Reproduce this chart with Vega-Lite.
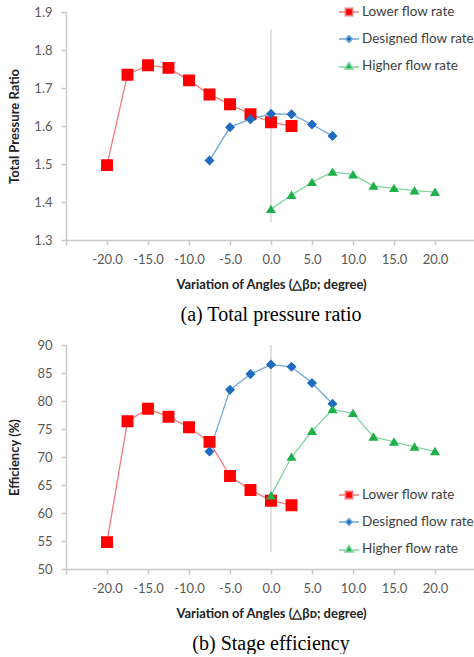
{
  "$schema": "https://vega.github.io/schema/vega-lite/v6.json",
  "padding": {"left": 8, "top": 1, "right": 0, "bottom": 0},
  "background": "white",
  "datasets": {
    "pr": [
      {"angle": -20, "value": 1.497, "series": "Lower flow rate"},
      {"angle": -17.5, "value": 1.735, "series": "Lower flow rate"},
      {"angle": -15, "value": 1.76, "series": "Lower flow rate"},
      {"angle": -12.5, "value": 1.753, "series": "Lower flow rate"},
      {"angle": -10, "value": 1.72, "series": "Lower flow rate"},
      {"angle": -7.5, "value": 1.683, "series": "Lower flow rate"},
      {"angle": -5, "value": 1.657, "series": "Lower flow rate"},
      {"angle": -2.5, "value": 1.631, "series": "Lower flow rate"},
      {"angle": 0, "value": 1.61, "series": "Lower flow rate"},
      {"angle": 2.5, "value": 1.6, "series": "Lower flow rate"},
      {"angle": -7.5, "value": 1.509, "series": "Designed flow rate"},
      {"angle": -5, "value": 1.597, "series": "Designed flow rate"},
      {"angle": -2.5, "value": 1.618, "series": "Designed flow rate"},
      {"angle": 0, "value": 1.632, "series": "Designed flow rate"},
      {"angle": 2.5, "value": 1.631, "series": "Designed flow rate"},
      {"angle": 5, "value": 1.604, "series": "Designed flow rate"},
      {"angle": 7.5, "value": 1.574, "series": "Designed flow rate"},
      {"angle": 0, "value": 1.381, "series": "Higher flow rate"},
      {"angle": 2.5, "value": 1.418, "series": "Higher flow rate"},
      {"angle": 5, "value": 1.452, "series": "Higher flow rate"},
      {"angle": 7.5, "value": 1.479, "series": "Higher flow rate"},
      {"angle": 10, "value": 1.472, "series": "Higher flow rate"},
      {"angle": 12.5, "value": 1.442, "series": "Higher flow rate"},
      {"angle": 15, "value": 1.436, "series": "Higher flow rate"},
      {"angle": 17.5, "value": 1.43, "series": "Higher flow rate"},
      {"angle": 20, "value": 1.426, "series": "Higher flow rate"}
    ],
    "eff": [
      {"angle": -20, "value": 54.8, "series": "Lower flow rate"},
      {"angle": -17.5, "value": 76.4, "series": "Lower flow rate"},
      {"angle": -15, "value": 78.6, "series": "Lower flow rate"},
      {"angle": -12.5, "value": 77.2, "series": "Lower flow rate"},
      {"angle": -10, "value": 75.3, "series": "Lower flow rate"},
      {"angle": -7.5, "value": 72.7, "series": "Lower flow rate"},
      {"angle": -5, "value": 66.6, "series": "Lower flow rate"},
      {"angle": -2.5, "value": 64.1, "series": "Lower flow rate"},
      {"angle": 0, "value": 62.2, "series": "Lower flow rate"},
      {"angle": 2.5, "value": 61.4, "series": "Lower flow rate"},
      {"angle": -7.5, "value": 71.0, "series": "Designed flow rate"},
      {"angle": -5, "value": 82.0, "series": "Designed flow rate"},
      {"angle": -2.5, "value": 84.8, "series": "Designed flow rate"},
      {"angle": 0, "value": 86.5, "series": "Designed flow rate"},
      {"angle": 2.5, "value": 86.1, "series": "Designed flow rate"},
      {"angle": 5, "value": 83.2, "series": "Designed flow rate"},
      {"angle": 7.5, "value": 79.5, "series": "Designed flow rate"},
      {"angle": 0, "value": 63.1, "series": "Higher flow rate"},
      {"angle": 2.5, "value": 70.0, "series": "Higher flow rate"},
      {"angle": 5, "value": 74.6, "series": "Higher flow rate"},
      {"angle": 7.5, "value": 78.5, "series": "Higher flow rate"},
      {"angle": 10, "value": 77.8, "series": "Higher flow rate"},
      {"angle": 12.5, "value": 73.6, "series": "Higher flow rate"},
      {"angle": 15, "value": 72.7, "series": "Higher flow rate"},
      {"angle": 17.5, "value": 71.8, "series": "Higher flow rate"},
      {"angle": 20, "value": 71.0, "series": "Higher flow rate"}
    ],
    "vpr": [{"angle": 0, "value": 1.347, "value2": 1.853}],
    "veff": [{"angle": 0, "value": 53.0, "value2": 90}]
  },
  "config": {
    "view": {"stroke": null},
    "axis": {
      "grid": false,
      "domainColor": "#c8c8c8",
      "domainWidth": 1.5,
      "tickColor": "#c8c8c8",
      "tickWidth": 1.5,
      "tickSize": 5,
      "labelColor": "#595959",
      "labelFont": "Lato",
      "labelFontSize": 13,
      "titleFont": "Lato",
      "titleFontSize": 13,
      "titleFontWeight": "bold",
      "titleColor": "#222222",
      "labelOverlap": false
    },
    "legend": {
      "labelFont": "Lato",
      "labelFontSize": 13.5,
      "labelColor": "#404040",
      "symbolSize": 400,
      "rowPadding": 9,
      "labelOffset": 2,
      "padding": 0,
      "symbolStrokeWidth": 1.6
    },
    "title": {
      "orient": "bottom",
      "font": "Liberation Serif",
      "fontSize": 20,
      "fontWeight": "normal",
      "color": "#000000",
      "anchor": "middle",
      "offset": 14
    }
  },
  "resolve": {
    "scale": {"fill": "independent", "stroke": "independent", "shape": "independent"},
    "legend": {"fill": "independent", "stroke": "independent", "shape": "independent"}
  },
  "spacing": 14,
  "vconcat": [
    {
      "width": 410,
      "height": 228,
      "title": "(a) Total pressure ratio",
      "encoding": {
        "x": {"field": "angle", "type": "quantitative",
          "scale": {"domain": [-25, 25], "nice": false},
          "axis": {"values": [-25, -20, -15, -10, -5, 0, 5, 10, 15, 20, 25],
            "labelExpr": "abs(datum.value) == 25 ? '' : replace(format(datum.value, '.1f'), '−', '-')",
            "labelPadding": 8, "titlePadding": 12,
            "title": "Variation of Angles (△βᴅ; degree)"}},
        "y": {"field": "value", "type": "quantitative",
          "scale": {"domain": [1.3, 1.9], "nice": false, "zero": false},
          "axis": {"values": [1.3, 1.4, 1.5, 1.6, 1.7, 1.8, 1.9], "format": ".1f",
            "labelPadding": 9, "titlePadding": 12, "title": "Total Pressure Ratio"}}
      },
      "layer": [
        {
          "data": {"name": "vpr"},
          "mark": {"type": "rule", "color": "#d9d9d9", "strokeWidth": 1.5},
          "encoding": {"y2": {"field": "value2"}}
        },
        {
          "data": {"name": "pr"},
          "mark": {"type": "line", "strokeWidth": 1.3},
          "encoding": {
            "detail": {"field": "series"},
            "stroke": {"field": "series", "type": "nominal",
              "scale": {"domain": ["Lower flow rate", "Designed flow rate", "Higher flow rate"], "range": ["#f47b7b", "#6fa8dc", "#7fd69c"]},
              "legend": {"title": null, "orient": "none", "legendX": 272, "legendY": -11}}
          }
        },
        {
          "data": {"name": "pr"},
          "mark": {"type": "point", "filled": true, "opacity": 1},
          "encoding": {
            "strokeWidth": {"value": 0},
            "fill": {"field": "series", "type": "nominal",
              "scale": {"domain": ["Lower flow rate", "Designed flow rate", "Higher flow rate"], "range": ["#ff0000", "#1f6bc1", "#1fb04c"]},
              "legend": {"title": null, "orient": "none", "legendX": 272, "legendY": -11}},
            "stroke": {"field": "series", "type": "nominal",
              "legend": {"title": null, "orient": "none", "legendX": 272, "legendY": -11}},
            "shape": {"field": "series", "type": "nominal",
              "scale": {"domain": ["Lower flow rate", "Designed flow rate", "Higher flow rate"],
                "range": ["M-1,0H-0.36M0.36,0H1M-0.36,-0.36H0.36V0.36H-0.36Z", "M-1,0H-0.34M0.34,0H1M0,-0.34L0.34,0L0,0.34L-0.34,0Z", "M-1,0.1H-0.4M0.4,0.1H1M0,-0.36L0.4,0.3H-0.4Z"]},
              "legend": {"title": null, "orient": "none", "legendX": 272, "legendY": -11}},
            "size": {"field": "series", "type": "nominal", "legend": null,
              "scale": {"domain": ["Lower flow rate", "Designed flow rate", "Higher flow rate"], "range": [1100, 640, 880]}}
          }
        }
      ]
    },
    {
      "width": 410,
      "height": 224,
      "title": "(b) Stage efficiency",
      "encoding": {
        "x": {"field": "angle", "type": "quantitative",
          "scale": {"domain": [-25, 25], "nice": false},
          "axis": {"values": [-25, -20, -15, -10, -5, 0, 5, 10, 15, 20, 25],
            "labelExpr": "abs(datum.value) == 25 ? '' : replace(format(datum.value, '.1f'), '−', '-')",
            "labelPadding": 8, "titlePadding": 12,
            "title": "Variation of Angles (△βᴅ; degree)"}},
        "y": {"field": "value", "type": "quantitative",
          "scale": {"domain": [50, 90], "nice": false, "zero": false},
          "axis": {"values": [50, 55, 60, 65, 70, 75, 80, 85, 90],
            "labelPadding": 9, "titlePadding": 15, "title": "Efficiency (%)"}}
      },
      "layer": [
        {
          "data": {"name": "veff"},
          "mark": {"type": "rule", "color": "#d9d9d9", "strokeWidth": 1.5},
          "encoding": {"y2": {"field": "value2"}}
        },
        {
          "data": {"name": "eff"},
          "mark": {"type": "line", "strokeWidth": 1.3},
          "encoding": {
            "detail": {"field": "series"},
            "stroke": {"field": "series", "type": "nominal",
              "scale": {"domain": ["Lower flow rate", "Designed flow rate", "Higher flow rate"], "range": ["#f47b7b", "#6fa8dc", "#7fd69c"]},
              "legend": {"title": null, "orient": "none", "legendX": 272, "legendY": 139}}
          }
        },
        {
          "data": {"name": "eff"},
          "mark": {"type": "point", "filled": true, "opacity": 1},
          "encoding": {
            "strokeWidth": {"value": 0},
            "fill": {"field": "series", "type": "nominal",
              "scale": {"domain": ["Lower flow rate", "Designed flow rate", "Higher flow rate"], "range": ["#ff0000", "#1f6bc1", "#1fb04c"]},
              "legend": {"title": null, "orient": "none", "legendX": 272, "legendY": 139}},
            "stroke": {"field": "series", "type": "nominal",
              "legend": {"title": null, "orient": "none", "legendX": 272, "legendY": 139}},
            "shape": {"field": "series", "type": "nominal",
              "scale": {"domain": ["Lower flow rate", "Designed flow rate", "Higher flow rate"],
                "range": ["M-1,0H-0.36M0.36,0H1M-0.36,-0.36H0.36V0.36H-0.36Z", "M-1,0H-0.34M0.34,0H1M0,-0.34L0.34,0L0,0.34L-0.34,0Z", "M-1,0.1H-0.4M0.4,0.1H1M0,-0.36L0.4,0.3H-0.4Z"]},
              "legend": {"title": null, "orient": "none", "legendX": 272, "legendY": 139}},
            "size": {"field": "series", "type": "nominal", "legend": null,
              "scale": {"domain": ["Lower flow rate", "Designed flow rate", "Higher flow rate"], "range": [1100, 640, 880]}}
          }
        }
      ]
    }
  ]
}
